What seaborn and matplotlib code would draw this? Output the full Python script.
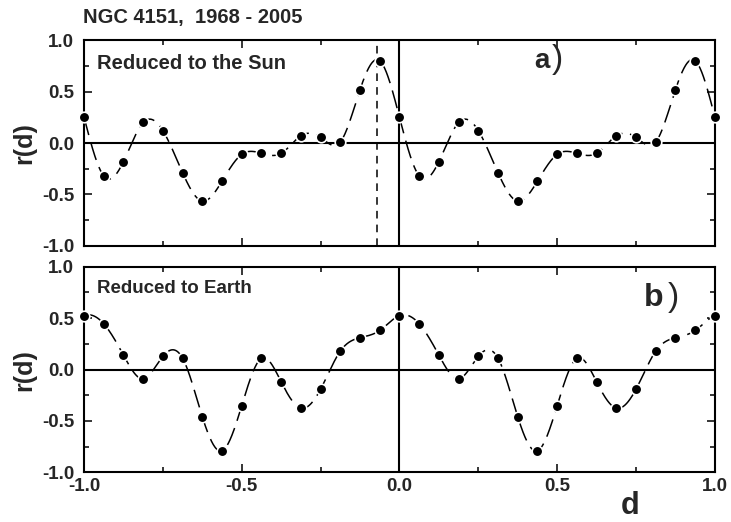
import numpy as np
import pandas as pd
import matplotlib
matplotlib.use("Agg")
import matplotlib.pyplot as plt
import seaborn as sns
from matplotlib.ticker import MultipleLocator

# ---- data (period-1 correlation coefficients, phase step 1/16) ----
phase = np.arange(16) / 16.0
r_sun = [0.25, -0.32, -0.18, 0.20, 0.12, -0.29, -0.565, -0.37,
         -0.11, -0.10, -0.10, 0.07, 0.055, 0.01, 0.52, 0.80]
r_earth = [0.525, 0.445, 0.14, -0.09, 0.13, 0.11, -0.46, -0.79,
           -0.35, 0.11, -0.12, -0.375, -0.19, 0.18, 0.31, 0.38]
cycles = [-1, 0]
title = "NGC 4151,  1968 - 2005"
label_a = "Reduced to the Sun"
label_b = "Reduced to Earth"
sun_marker_line = -0.072

sns.set_theme(style="ticks")
plt.rcParams['font.family'] = ['Liberation Sans', 'DejaVu Sans']
plt.rcParams['font.weight'] = 'bold'


def tile(vals):
    x = np.concatenate([c + phase for c in cycles] + [[cycles[-1] + 1]])
    y = np.concatenate([np.asarray(vals)] * len(cycles) + [[vals[0]]])
    return x, y


def periodic_spline(vals, n_fine=60):
    """Periodic cubic spline through the sampled values (period 1)."""
    y = np.asarray(vals, dtype=float)
    n = len(y)
    h = 1.0 / n
    A = np.zeros((n, n))
    for i in range(n):
        A[i, i] = 4.0
        A[i, (i - 1) % n] = 1.0
        A[i, (i + 1) % n] = 1.0
    rhs = 6.0 / h ** 2 * (np.roll(y, -1) - 2 * y + np.roll(y, 1))
    M = np.linalg.solve(A, rhs)
    xs, ys = [], []
    for c in cycles:
        for i in range(n):
            j = (i + 1) % n
            t = np.linspace(0, h, n_fine, endpoint=False)
            a = h - t
            s = (M[i] * a ** 3 + M[j] * t ** 3) / (6 * h) \
                + (y[i] / h - M[i] * h / 6) * a + (y[j] / h - M[j] * h / 6) * t
            xs.append(c + phase[i] + t)
            ys.append(s)
    xs.append([cycles[-1] + 1.0])
    ys.append([y[0]])
    return np.concatenate(xs), np.concatenate(ys)


fig = plt.figure(figsize=(7.31, 5.22), dpi=100)
ax1 = fig.add_axes([0.115, 0.529, 0.863, 0.394])
ax2 = fig.add_axes([0.115, 0.095, 0.863, 0.394])

for ax, vals in ((ax1, r_sun), (ax2, r_earth)):
    xf, yf = periodic_spline(vals)
    sns.lineplot(x=xf, y=yf, ax=ax, color='black', lw=1.1, sort=False,
                 estimator=None, zorder=3)
    ax.lines[-1].set_dashes((12, 5))
    xp, yp = tile(vals)
    sns.scatterplot(x=xp, y=yp, ax=ax, color='black', s=58, edgecolor='white',
                    linewidth=1.2, zorder=4, clip_on=False)
    ax.axhline(0, color='black', lw=1.5, zorder=2)
    ax.axvline(0, color='black', lw=1.5, zorder=2)
    ax.set_xlim(-1, 1)
    ax.set_ylim(-1, 1)
    ax.xaxis.set_major_locator(MultipleLocator(0.5))
    ax.xaxis.set_minor_locator(MultipleLocator(0.25))
    ax.yaxis.set_major_locator(MultipleLocator(0.5))
    ax.yaxis.set_minor_locator(MultipleLocator(0.25))
    ax.tick_params(which='both', direction='in', top=True, right=True,
                   width=1.3, labelsize=13.5, pad=4)
    ax.tick_params(axis='y', which='major', pad=7)
    ax.tick_params(which='major', length=6)
    ax.tick_params(which='minor', length=3.5)
    for sp in ax.spines.values():
        sp.set_linewidth(1.5)
        sp.set_color('black')
    ax.set_yticklabels([f"{v:.1f}" for v in ax.get_yticks()], fontweight='bold')
    ax.set_ylabel("r(d)", fontsize=18, fontweight='bold', labelpad=4)
    ax.set_xlabel("")

ax1.tick_params(labelbottom=False)
ax2.set_xticks([-1, -0.5, 0, 0.5, 1])
ax2.set_xticklabels(["-1.0", "-0.5", "0.0", "0.5", "1.0"], fontweight='bold')
ax1.axvline(sun_marker_line, color='black', lw=1.1, dashes=(5, 4), zorder=2)

ax1.text(0.02, 0.935, label_a, transform=ax1.transAxes, fontsize=14.5,
         fontweight='bold', va='top', ha='left')
ax2.text(0.02, 0.935, label_b, transform=ax2.transAxes, fontsize=13.5,
         fontweight='bold', va='top', ha='left')
ax1.text(0.713, 0.864, "a", transform=ax1.transAxes, fontsize=20,
         fontweight='bold', va='baseline', ha='left')
ax1.text(0.742, 0.864, ")", transform=ax1.transAxes, fontsize=24,
         fontweight='normal', va='baseline', ha='left')
ax2.text(0.887, 0.811, "b", transform=ax2.transAxes, fontsize=23,
         fontweight='bold', va='baseline', ha='left')
ax2.text(0.925, 0.811, ")", transform=ax2.transAxes, fontsize=24,
         fontweight='normal', va='baseline', ha='left')

fig.text(0.114, 0.966, title, fontsize=14.5, fontweight='bold',
         va='center', ha='left')
fig.text(0.862, 0.03, "d", fontsize=22, fontweight='bold',
         va='center', ha='center')

fig.savefig("out.png", dpi=100)
